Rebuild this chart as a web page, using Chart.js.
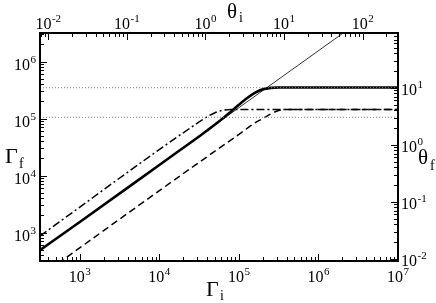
<!DOCTYPE html>
<html><head><meta charset="utf-8">
<script src="https://cdn.jsdelivr.net/npm/chart.js@4.4.1/dist/chart.umd.min.js"></script>
<style>html,body{margin:0;padding:0;background:#fff;overflow:hidden}#wrap{width:436px;height:303px;position:relative}</style>
</head><body><div id="wrap"><canvas id="c"></canvas></div>
<script>
// ---- data (Gamma_i -> Gamma_f) ----
const thickGi = [316, 1000, 10000, 31600, 39800, 50100, 63100, 79400, 100000, 125900, 158500, 199500, 251200, 316200, 1e7];
const thickGf = [490, 1530, 15300, 48400, 61400, 78200, 100700, 131800, 173800, 226500, 281800, 325100, 344400, 349100, 349100];
const thinGi = [316, 2.2e6];
const thinGf = [490, 3.4e6];
const dashDotGi = [316, 31600, 39800, 50100, 63100, 79400, 1e7];
const dashDotGf = [871, 87100, 107000, 126000, 140000, 144500, 144500];
const dashedGi = [316, 31600, 100000, 158000, 200000, 251000, 316000, 398000, 1e7];
const dashedGf = [170, 17000, 52500, 83200, 100000, 120000, 138000, 144500, 144500];
const dotGi = [316.2, 1e7];
const dotLowGf = [105000, 105000];
const dotHighGf = [347000, 347000];
// axis ranges
const giRange = [316.23, 1e7];
const gfRange = [316.23, 3.1623e6];
const thetaIRange = [0.00785, 281.8];
const thetaFRange = [0.00912, 91.2];
// tick label exponents
const bottomExp = [3, 4, 5, 6, 7];
const leftExp = [3, 4, 5, 6];
const topExp = [-2, -1, 0, 1, 2];
const rightExp = [-2, -1, 0, 1];

const mk = (gi, gf) => gi.map((v, i) => ({x: v, y: gf[i]}));

const SERIF = '"Liberation Serif", "Times New Roman", serif';

function drawPow(ctx, exp, x, baseline, align) {
  ctx.font = '16px ' + SERIF;
  const w1 = ctx.measureText('10').width;
  ctx.font = '11px ' + SERIF;
  const es = String(exp);
  const w2 = ctx.measureText(es).width;
  const W = w1 + w2 + 0.5;
  let left = align === 'center' ? x - W / 2 : (align === 'right' ? x - W : x);
  ctx.textAlign = 'left'; ctx.textBaseline = 'alphabetic';
  ctx.font = '16px ' + SERIF; ctx.fillText('10', left, baseline);
  ctx.font = '11px ' + SERIF; ctx.fillText(es, left + w1 + 0.5, baseline - 7);
}

function logTicks(min, max) {
  const out = [];
  for (let e = Math.floor(Math.log10(min)); e <= Math.ceil(Math.log10(max)); e++) {
    for (let m = 1; m <= 9; m++) {
      const v = m * Math.pow(10, e);
      if (v >= min * (1 - 1e-9) && v <= max * (1 + 1e-9)) out.push({v, major: m === 1});
    }
  }
  return out;
}

const axesPlugin = {
  id: 'axesPlugin',
  afterDraw(chart) {
    const ctx = chart.ctx, a = chart.chartArea, s = chart.scales;
    ctx.save();
    ctx.strokeStyle = '#000'; ctx.fillStyle = '#000';
    ctx.lineWidth = 1;
    const MAJ = 7, MIN = 4;
    ctx.beginPath();
    for (const t of logTicks(s.x.min, s.x.max)) {
      const p = Math.round(s.x.getPixelForValue(t.v)) + 0.5, L = t.major ? MAJ : MIN;
      ctx.moveTo(p, a.bottom); ctx.lineTo(p, a.bottom - L);
    }
    for (const t of logTicks(s.x2.min, s.x2.max)) {
      const p = Math.round(s.x2.getPixelForValue(t.v)) + 0.5, L = t.major ? MAJ : MIN;
      ctx.moveTo(p, a.top); ctx.lineTo(p, a.top + L);
    }
    for (const t of logTicks(s.y.min, s.y.max)) {
      const p = Math.round(s.y.getPixelForValue(t.v)) + 0.5, L = t.major ? MAJ : MIN;
      ctx.moveTo(a.left, p); ctx.lineTo(a.left + L, p);
    }
    for (const t of logTicks(s.y2.min, s.y2.max)) {
      const p = Math.round(s.y2.getPixelForValue(t.v)) + 0.5, L = t.major ? MAJ : MIN;
      ctx.moveTo(a.right, p); ctx.lineTo(a.right - L, p);
    }
    ctx.stroke();
    ctx.lineWidth = 2;
    ctx.strokeRect(a.left, a.top, a.right - a.left, a.bottom - a.top);

    for (const e of bottomExp) drawPow(ctx, e, s.x.getPixelForValue(Math.pow(10, e)), a.bottom + 21, 'center');
    for (const e of topExp) drawPow(ctx, e, s.x2.getPixelForValue(Math.pow(10, e)), a.top - 4, 'center');
    for (const e of leftExp) drawPow(ctx, e, a.left - 4, s.y.getPixelForValue(Math.pow(10, e)) + 8, 'right');
    for (const e of rightExp) drawPow(ctx, e, a.right + 3, s.y2.getPixelForValue(Math.pow(10, e)) + 7, 'left');

    // axis titles
    const title = (main, sub, x, y, size, subX, subY) => {
      ctx.textAlign = 'left'; ctx.textBaseline = 'alphabetic';
      ctx.font = size + 'px ' + SERIF; ctx.fillText(main, x, y);
      ctx.font = '14px ' + SERIF; ctx.fillText(sub, subX, subY);
    };
    title('\u0393', 'i', 206, 296, 22, 220, 300);
    title('\u03B8', 'i', 227, 18, 21, 239, 22);
    title('\u0393', 'f', 5, 163, 22, 19, 168);
    title('\u03B8', 'f', 418, 164, 21, 430, 170);
    ctx.restore();
  }
};

const hiddenAxis = (pos, range, size) => ({
  type: 'logarithmic', position: pos, min: range[0], max: range[1], display: true,
  grid: {display: false, drawTicks: false}, border: {display: false}, ticks: {display: false},
  afterFit(sc) { if (pos === 'top' || pos === 'bottom') sc.height = size; else sc.width = size; }
});

new Chart(document.getElementById('c'), {
  type: 'line',
  data: {
    datasets: [
      {data: mk(dotGi, dotLowGf), borderColor: '#808080', borderWidth: 1, borderDash: [1, 2]},
      {data: mk(dotGi, dotHighGf), borderColor: '#808080', borderWidth: 1, borderDash: [1, 2]},
      {data: mk(thinGi, thinGf), borderColor: '#000', borderWidth: 0.8},
      {data: mk(dashedGi, dashedGf), borderColor: '#000', borderWidth: 1.5, borderDash: [7, 4], cubicInterpolationMode: 'monotone'},
      {data: mk(dashDotGi, dashDotGf), borderColor: '#000', borderWidth: 1.5, borderDash: [8, 3, 2, 3], cubicInterpolationMode: 'monotone'},
      {data: mk(thickGi, thickGf), borderColor: '#000', borderWidth: 2.6, cubicInterpolationMode: 'monotone'}
    ].map(d => Object.assign({xAxisID: 'x', yAxisID: 'y', pointRadius: 0, fill: false, clip: 0, tension: 0}, d))
  },
  options: {
    animation: false, responsive: true, maintainAspectRatio: false,
    layout: {padding: 0},
    plugins: {legend: {display: false}, tooltip: {enabled: false}},
    events: [],
    scales: {
      x: hiddenAxis('bottom', giRange, 42),
      x2: hiddenAxis('top', thetaIRange, 33),
      y: hiddenAxis('left', gfRange, 40),
      y2: hiddenAxis('right', thetaFRange, 38)
    }
  },
  plugins: [axesPlugin]
});
</script>
</body></html>
